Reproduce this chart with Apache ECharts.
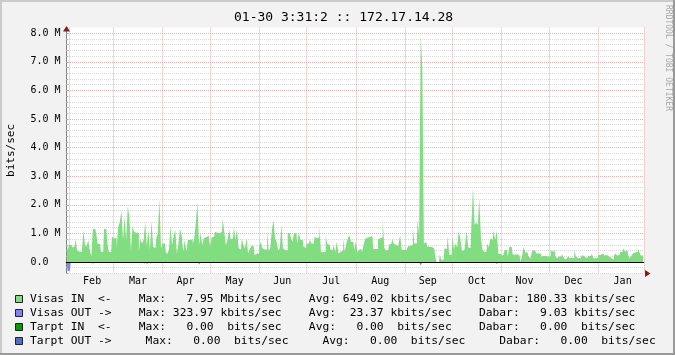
<!DOCTYPE html>
<html><head><meta charset="utf-8">
<script src="https://cdn.jsdelivr.net/npm/echarts@6/dist/echarts.min.js"></script>
<style>html,body{margin:0;padding:0;background:#F2F2F2}#c{width:675px;height:355px}</style>
</head><body><div id="c"></div><script>
// ---- data (values in Mbit/s) ----
const monthKeys = ['2013-01','2013-02','2013-03','2013-04','2013-05','2013-06','2013-07','2013-08','2013-09','2013-10','2013-11','2013-12','2014-01'];
const monthNames = ['Jan','Feb','Mar','Apr','May','Jun','Jul','Aug','Sep','Oct','Nov','Dec'];
const firstDay = 30; // graph starts 01-30
const in2013Jan = [0.71,0.42];
const inFeb = [0.6,0.6,0.51,0.55,0.83,0.4,0.36,0.36,0.42,1.09,0.6,0.53,0.77,0.44,0.19,1.15,1.15,1.02,0.63,0.63,0.36,0.36,1.15,1.15,0.71,0.36,0.34,0.88];
const inMar = [0.83,0.83,0.48,1.23,1.4,1.81,0.77,1.58,0.77,1.95,1.58,0.4,1.26,1.06,1.02,1.02,0.36,0.79,0.65,0.77,1.4,0.56,1.12,0.42,1.44,0.53,0.48,0.83,1.0,2.19,0.48];
const inApr = [0.65,0.65,0.36,0.28,0.42,1.26,0.59,0.91,1.12,0.3,0.65,1.17,0.94,0.36,0.77,0.36,0.77,0.77,0.79,0.63,0.83,1.4,2.07,0.59,1.0,0.59,0.83,0.86,0.91,0.98];
const inMay = [0.53,0.86,0.88,1.06,1.02,1.0,0.98,1.06,1.52,1.02,0.59,0.77,1.14,0.79,0.83,1.23,0.77,1.14,0.48,0.44,0.83,0.59,0.48,0.83,0.3,0.44,0.56,0.56,0.24,0.3,0.3];
const inJun = [0.56,0.71,0.48,0.44,0.44,1.12,0.4,0.48,1.12,1.47,0.83,0.71,0.4,0.48,1.3,0.48,0.42,0.4,1.02,1.0,0.83,0.71,1.0,1.0,0.65,1.02,0.77,0.77,0.53,0.5];
const inJul = [0.65,0.65,0.79,0.65,0.65,0.88,0.83,0.86,1.29,0.36,0.34,0.36,0.9,0.63,0.6,0.43,0.43,0.6,0.34,0.72,0.3,0.36,0.4,0.83,0.36,0.65,0.83,0.93,0.7,0.7,0.42];
const inAug = [0.72,0.34,0.42,0.45,0.35,0.63,0.81,0.85,0.88,0.9,0.9,0.45,0.45,0.45,0.8,0.83,0.86,1.5,0.5,0.4,0.42,0.6,0.65,0.8,0.63,0.6,0.56,0.63,0.93,0.42,0.42];
const inSep = [0.42,0.45,0.55,0.56,0.6,1.2,0.65,0.65,1.45,0.95,7.95,6.8,0.65,0.7,0.55,0.53,0.52,0.5,0.48,0.25,0,0,0.25,0.08,0.08,0.48,0.45,0.9,0.25,0.25];
const inOct = [0.87,0.45,0.65,0.51,1.08,0.83,0.4,0.4,0.59,1.08,0.51,0.48,1.3,2.6,1.3,1.38,1.29,2.23,0.83,0.44,0.36,0.36,0.65,0.51,0.83,0.77,1.12,0.77,1.09,0.28,0.28];
const inNov = [0.22,0.22,0.42,0.42,0.19,0.53,0.53,0.27,0.25,0.27,0.25,0.22,0,0.22,0.53,0.33,0.33,0.19,0.13,0.33,0.42,0.38,0.3,0.3,0.3,0.19,0.21,0.21,0.19,0.19];
const inDec = [0.19,0.44,0.36,0.4,0.21,0.13,0.19,0.19,0.28,0.19,0.09,0.13,0.21,0.13,0.16,0.13,0.42,0.19,0.13,0.15,0.19,0.24,0.19,0.13,0.13,0.21,0.21,0.3,0.13,0.13,0.15];
const in2014Jan = [0.24,0.24,0.3,0.33,0.23,0.24,0.19,0.22,0.13,0.09,0.23,0.3,0.23,0.24,0.35,0.36,0.48,0.36,0.42,0.23,0.13,0.21,0.3,0.34,0.35,0.48,0.36,0.23,0.23];
const visasInByMonth = [in2013Jan,inFeb,inMar,inApr,inMay,inJun,inJul,inAug,inSep,inOct,inNov,inDec,in2014Jan];
// Visas OUT is drawn below zero
const visasOutDates = ['2013-01-31','2013-02-01','2013-02-03','2013-02-16','2013-02-19','2013-03-08','2013-03-20','2013-03-22','2013-03-24','2013-03-30','2013-04-07','2013-04-22','2013-04-24','2013-05-28','2013-06-04','2013-06-07','2013-06-09','2013-06-14','2013-06-20','2013-06-23','2013-06-26','2013-06-29','2013-07-10','2013-07-19','2013-07-29','2013-08-07','2013-09-11','2013-10-14','2013-10-16','2013-10-17','2013-10-29'];
const visasOutVals = [-0.324,-0.3,-0.02,-0.07,-0.04,-0.02,-0.05,-0.1,-0.05,-0.02,-0.05,-0.04,-0.1,-0.02,-0.04,-0.04,-0.04,-0.04,-0.04,-0.04,-0.04,-0.04,-0.04,-0.04,-0.04,-0.04,-0.12,-0.04,-0.04,-0.04,-0.08];
const legendColors = ['#80DD80','#8080FF','#00A000','#4C6FCC'];
const legendRows = [
  'Visas IN  <-    Max:   7.95 Mbits/sec    Avg: 649.02 kbits/sec    Dabar: 180.33 kbits/sec',
  'Visas OUT ->    Max: 323.97 kbits/sec    Avg:  23.37 kbits/sec    Dabar:   9.03 kbits/sec',
  'Tarpt IN  <-    Max:   0.00  bits/sec    Avg:   0.00  bits/sec    Dabar:   0.00  bits/sec',
  'Tarpt OUT ->     Max:   0.00  bits/sec     Avg:   0.00  bits/sec     Dabar:   0.00  bits/sec'
];
const titleText = '01-30 3:31:2 :: 172.17.14.28';
const yName = 'bits/sec';
const sideText = 'RRDTOOL / TOBI OETIKER';

// ---- build ----
const categories = [], visasIn = [];
monthKeys.forEach((mk, mi) => {
  const first = mi === 0 ? firstDay : 1;
  visasInByMonth[mi].forEach((v, k) => {
    categories.push(mk + '-' + String(first + k).padStart(2, '0'));
    visasIn.push(v);
  });
});
const visasOut = categories.map(c => { const i = visasOutDates.indexOf(c); return i < 0 ? 0 : visasOutVals[i]; });

const MONO = '"DejaVu Sans Mono", monospace';
const G = {left: 66, right: 31, top: 27.5, bottom: 81.6};
const W = 675, H = 355;
const axisY = H - G.bottom;

function labelDay(v) {
  const y = +v.slice(0, 4), m = +v.slice(5, 7), d = +v.slice(8);
  const dim = new Date(y, m, 0).getDate();
  return d === (dim === 31 ? 16 : 15);
}

const chart = echarts.init(document.getElementById('c'), null, {renderer: 'canvas'});
const graphic = [
  {type:'rect', shape:{x:0,y:0,width:W,height:2}, style:{fill:'#CBCBCB'}, silent:true},
  {type:'rect', shape:{x:0,y:0,width:2,height:H}, style:{fill:'#CBCBCB'}, silent:true},
  {type:'rect', shape:{x:0,y:H-2,width:W,height:2}, style:{fill:'#999999'}, silent:true},
  {type:'rect', shape:{x:W-2,y:0,width:2,height:H}, style:{fill:'#999999'}, silent:true},
  {type:'text', x:668, y:5, rotation:-Math.PI/2, silent:true,
   style:{text:sideText, fontFamily:MONO, fontSize:8, fill:'#A8A8A8', align:'left', verticalAlign:'middle'}},
  {type:'polygon', shape:{points:[[63,31.5],[70,31.5],[66.5,26]]}, style:{fill:'#8B1A1A'}, silent:true, z:100},
  {type:'polygon', shape:{points:[[645,axisY-3.5],[645,axisY+3.5],[650.5,axisY]]}, style:{fill:'#8B1A1A'}, silent:true, z:100}
];
const rowY = [299, 313, 327, 341];
legendRows.forEach((t, i) => {
  graphic.push({type:'rect', shape:{x:15.5, y:rowY[i]-3.5, width:7, height:7},
    style:{fill:legendColors[i], stroke:'#222', lineWidth:1}, silent:true});
  graphic.push({type:'text', x:30, y:rowY[i], silent:true,
    style:{text:t, fontFamily:MONO, fontSize:11.3, fill:'#000', align:'left', verticalAlign:'middle'}});
});

chart.setOption({
  animation: false,
  backgroundColor: '#F2F2F2',
  title: {text: titleText, left: 229, top: 6,
    textStyle: {fontFamily: MONO, fontSize: 13, fontWeight: 'normal', color: '#000'}},
  grid: {left: G.left, right: G.right, top: G.top, bottom: G.bottom, show: true,
    backgroundColor: '#FFFFFF', borderWidth: 0, containLabel: false, outerBoundsMode: 'none'},
  xAxis: {
    type: 'category', data: categories, boundaryGap: true,
    axisLine: {show: true, lineStyle: {color: '#808080', width: 1}},
    axisTick: {show: false},
    axisLabel: {interval: (i, v) => labelDay(v), formatter: v => monthNames[+v.slice(5, 7) - 1],
      fontFamily: MONO, fontSize: 10, color: '#000', margin: 3.5},
    splitLine: {show: true, interval: (i, v) => v.slice(8) === '01',
      lineStyle: {color: '#E8B0B0', type: [1, 1], width: 1}}
  },
  yAxis: {
    type: 'value', min: -0.4, max: 8.2, interval: 0.2,
    name: yName, nameLocation: 'middle', nameGap: 49, nameRotate: 90,
    nameTextStyle: {fontFamily: MONO, fontSize: 11, color: '#000'},
    axisLine: {show: true, lineStyle: {color: '#808080', width: 1}},
    axisTick: {show: true, inside: true, length: 2, lineStyle: {color: '#B0B0B0'}},
    axisLabel: {
      formatter: v => { const r = Math.round(v); if (Math.abs(v - r) > 1e-6 || r < 0) return ''; return r === 0 ? '0.0' : r.toFixed(1) + ' M'; },
      align: 'left', margin: 35.5, fontFamily: MONO, fontSize: 10, color: '#000'
    },
    splitLine: {show: true, showMaxLine: false,
      lineStyle: {color: ['#DADADA', '#DADADA', '#E8B0B0', '#DADADA', '#DADADA'], type: [1, 1], width: 1}}
  },
  series: [
    {name: 'Visas IN', type: 'line', data: visasIn, step: 'middle', symbol: 'none', silent: true,
     lineStyle: {width: 0, opacity: 0}, areaStyle: {color: legendColors[0], opacity: 1}},
    {name: 'Visas OUT', type: 'line', data: visasOut, step: 'middle', symbol: 'none', silent: true,
     lineStyle: {width: 0, opacity: 0}, areaStyle: {color: legendColors[1], opacity: 1},
     markLine: {silent: true, symbol: 'none', label: {show: false}, animation: false,
       lineStyle: {color: '#000', type: 'solid', width: 1}, data: [{yAxis: 0}]}}
  ],
  graphic: graphic
});
</script></body></html>
